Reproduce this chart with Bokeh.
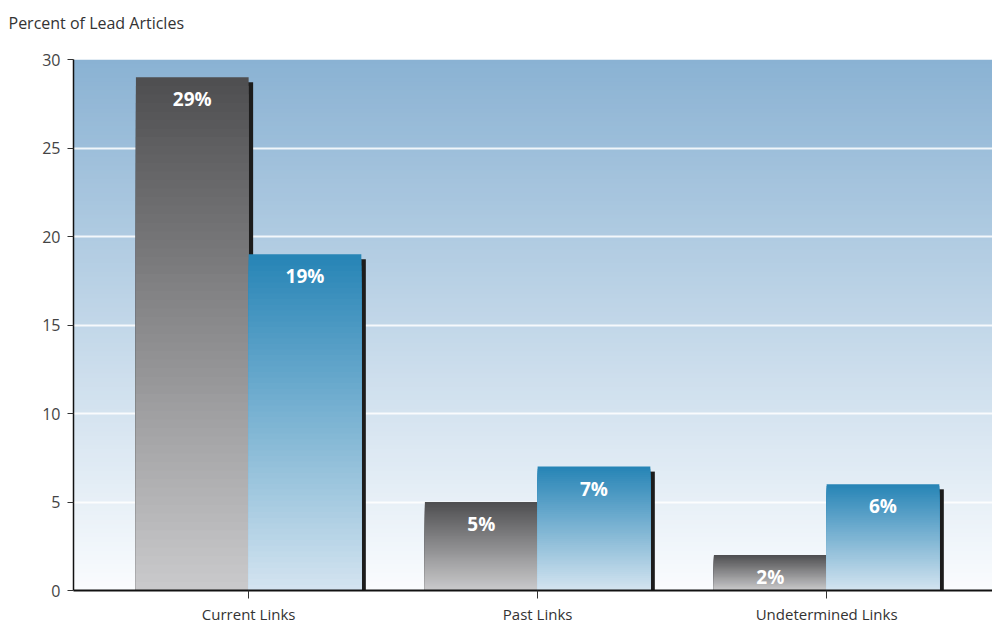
from bokeh.plotting import figure
from bokeh.models import Range1d, FixedTicker, ColumnDataSource
from bokeh.core.properties import value
from bokeh.embed import file_html
from bokeh.resources import INLINE

# ---- data ----
categories = ["Current Links", "Past Links", "Undetermined Links"]
gray_vals = [29, 5, 2]
blue_vals = [19, 7, 6]
gray_labels = ["29%", "5%", "2%"]
blue_labels = ["19%", "7%", "6%"]
y_ticks = [0, 5, 10, 15, 20, 25, 30]
axis_title = "Percent of Lead Articles"

FONT = "Open Sans"

def lerp(c1, c2, t):
    return "#%02x%02x%02x" % tuple(int(round(a + (b - a) * t)) for a, b in zip(c1, c2))

p = figure(width=992, height=628, output_backend="svg", toolbar_location=None,
           x_range=Range1d(-0.606, 2.574), y_range=Range1d(0, 30),
           min_border_left=73, min_border_right=0, min_border_top=59, min_border_bottom=38)
p.outline_line_color = None
p.background_fill_color = "white"
p.border_fill_color = "white"

# background gradient (decoration), drawn tallest first so no seams
NB = 120
bg = dict(top=[], color=[])
top_c, bot_c = (138, 178, 211), (250, 252, 254)
for k in range(NB - 1, -1, -1):
    bg["top"].append(30 * (k + 1) / NB)
    bg["color"].append(lerp(bot_c, top_c, (k + 0.5) / NB))
p.quad(left=-1, right=3, bottom=0, top="top", fill_color="color", line_color=None,
       source=ColumnDataSource(bg), level="image")

W = 0.39
PX_X = (2.574 + 0.606) / 919.0
PX_Y = 30 / 531.0

def gradient_bar(cx, v, top_color, bottom_color, N=60):
    d = dict(top=[], color=[])
    for k in range(N - 1, -1, -1):
        d["top"].append(v * (k + 1) / N)
        d["color"].append(lerp(bottom_color, top_color, (k + 0.5) / N))
    p.quad(left=cx - W / 2, right=cx + W / 2, bottom=0, top="top",
           fill_color="color", line_color=None, source=ColumnDataSource(d))

def shadow(cx, v):
    p.quad(left=cx + W / 2 - 2 * PX_X, right=cx + W / 2 + 4.5 * PX_X,
           bottom=0, top=v - 5 * PX_Y, fill_color="#1c1c1c", line_color=None)

gray_top, gray_bot = (78, 78, 80), (202, 202, 204)
blue_top, blue_bot = (38, 132, 182), (212, 228, 240)

for i in range(len(categories)):
    gx = i - W / 2
    bx = i + W / 2
    shadow(gx, gray_vals[i])
    gradient_bar(gx, gray_vals[i], gray_top, gray_bot)
    shadow(bx, blue_vals[i])
    gradient_bar(bx, blue_vals[i], blue_top, blue_bot)

lab = ColumnDataSource(dict(
    x=[i - W / 2 for i in range(3)] + [i + W / 2 for i in range(3)],
    y=gray_vals + blue_vals,
    t=gray_labels + blue_labels))
p.text(x="x", y="y", text="t", source=lab, text_color="white", text_font=value(FONT),
       text_font_style="bold", text_font_size="19px", text_align="center",
       text_baseline="middle", y_offset=22)

# axes
p.xaxis.ticker = FixedTicker(ticks=[0, 1, 2])
p.xaxis.major_label_overrides = {i: c for i, c in enumerate(categories)}
p.xaxis.axis_line_width = 2
p.xaxis.axis_line_color = "#111111"
p.xaxis.major_tick_out = 8
p.xaxis.major_tick_in = 0
p.xaxis.major_tick_line_color = "#333333"
p.xaxis.minor_tick_line_color = None
p.xaxis.major_label_standoff = 5
p.xaxis.major_label_text_font = FONT
p.xaxis.major_label_text_font_size = "15px"
p.xaxis.major_label_text_color = "#333333"

p.yaxis.ticker = FixedTicker(ticks=y_ticks)
p.yaxis.axis_line_width = 1.5
p.yaxis.axis_line_color = "#111111"
p.yaxis.major_tick_out = 6
p.yaxis.major_tick_in = 0
p.yaxis.major_tick_line_color = "#333333"
p.yaxis.minor_tick_line_color = None
p.yaxis.major_label_standoff = 7
p.yaxis.major_label_text_font = FONT
p.yaxis.major_label_text_font_size = "16px"
p.yaxis.major_label_text_color = "#444444"

p.xgrid.grid_line_color = None
p.ygrid.ticker = FixedTicker(ticks=[5, 10, 15, 20, 25])
p.ygrid.grid_line_color = "white"
p.ygrid.grid_line_width = 2
p.ygrid.grid_line_alpha = 0.85

p.title.text = axis_title + "\n "
p.title.text_font = FONT
p.title.text_font_size = "16px"
p.title.text_font_style = "normal"
p.title.text_color = "#333333"
p.title.align = "left"
p.title.offset = -65
p.title.standoff = 8

open("out.html", "w").write(file_html(p, INLINE))
